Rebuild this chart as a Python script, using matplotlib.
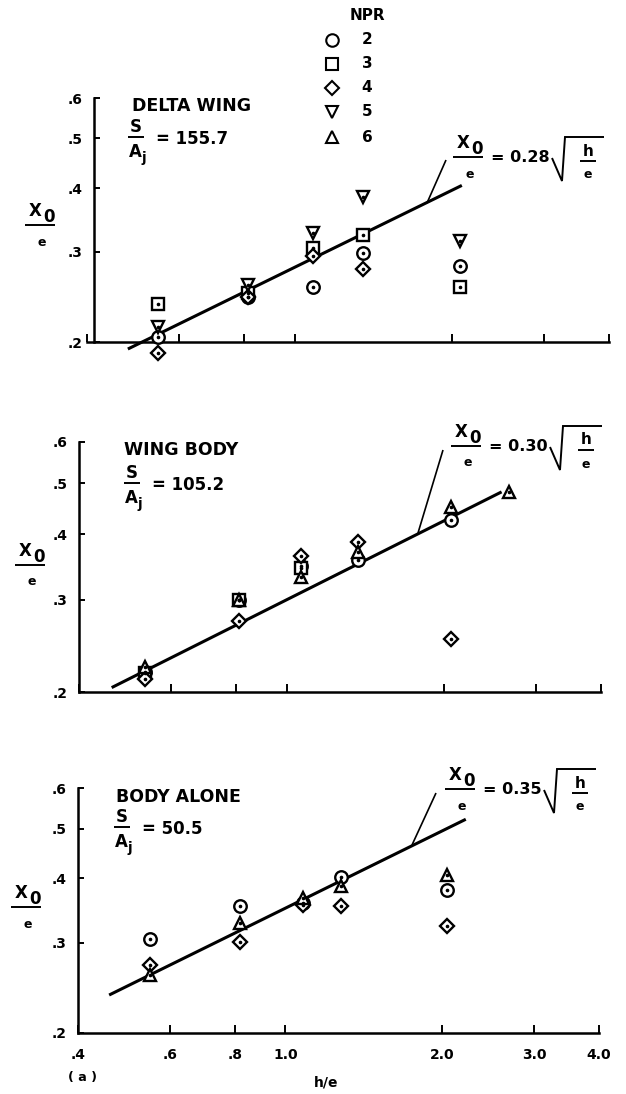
import numpy as np
import matplotlib
matplotlib.use('Agg')
import matplotlib.pyplot as plt
from matplotlib.lines import Line2D
from matplotlib.ticker import FixedLocator, NullLocator, FixedFormatter

W, H = 626, 1094
plt.rcParams['font.family'] = ['DejaVu Sans']

# ---------------- data ----------------
npr_labels = ['2', '3', '4', '5', '6']
npr_markers = ['o', 's', 'D', 'v', '^']

# DELTA WING  (S/Aj = 155.7)
dw_npr2_x = [0.547, 0.814, 1.084, 1.354, 2.07]
dw_npr2_y = [0.205, 0.245, 0.256, 0.299, 0.282]
dw_npr3_x = [0.547, 0.814, 1.084, 1.354, 2.07]
dw_npr3_y = [0.237, 0.249, 0.305, 0.324, 0.256]
dw_npr4_x = [0.547, 0.814, 1.084, 1.354]
dw_npr4_y = [0.190, 0.245, 0.295, 0.278]
dw_npr5_x = [0.547, 0.814, 1.084, 1.354, 2.07]
dw_npr5_y = [0.214, 0.258, 0.326, 0.384, 0.315]

# WING BODY  (S/Aj = 105.2)
wb_npr2_x = [0.536, 0.81, 1.067, 1.37, 2.06]
wb_npr2_y = [0.218, 0.300, 0.348, 0.357, 0.426]
wb_npr3_x = [0.536, 0.81, 1.067]
wb_npr3_y = [0.217, 0.300, 0.345]
wb_npr4_x = [0.536, 0.81, 1.067, 1.37, 2.06]
wb_npr4_y = [0.212, 0.273, 0.364, 0.387, 0.252]
wb_npr6_x = [0.536, 0.81, 1.067, 1.37, 2.06, 2.66]
wb_npr6_y = [0.223, 0.300, 0.331, 0.370, 0.451, 0.482]

# BODY ALONE  (S/Aj = 50.5)
ba_npr2_x = [0.55, 0.818, 1.08, 1.28, 2.04]
ba_npr2_y = [0.305, 0.354, 0.358, 0.403, 0.380]
ba_npr4_x = [0.55, 0.818, 1.08, 1.28, 2.04]
ba_npr4_y = [0.271, 0.301, 0.355, 0.354, 0.323]
ba_npr6_x = [0.55, 0.818, 1.08, 1.28, 2.04]
ba_npr6_y = [0.259, 0.328, 0.367, 0.387, 0.406]

panel_names = ['DELTA WING', 'WING BODY', 'BODY ALONE']
panel_s_aj = ['155.7', '105.2', '50.5']
fit_coef = [0.28, 0.30, 0.35]
fit_coef_text = ['0.28', '0.30', '0.35']
fit_x_lo = [0.479, 0.462, 0.459]
fit_x_hi = [2.09, 2.58, 2.22]

x_ticks = [0.4, 0.6, 0.8, 1.0, 2.0, 3.0, 4.0]
x_tick_labels = ['.4', '.6', '.8', '1.0', '2.0', '3.0', '4.0']
y_ticks = [0.2, 0.3, 0.4, 0.5, 0.6]
y_tick_labels = ['.2', '.3', '.4', '.5', '.6']

panel_series = [
    [('2', dw_npr2_x, dw_npr2_y), ('3', dw_npr3_x, dw_npr3_y),
     ('4', dw_npr4_x, dw_npr4_y), ('5', dw_npr5_x, dw_npr5_y)],
    [('2', wb_npr2_x, wb_npr2_y), ('3', wb_npr3_x, wb_npr3_y),
     ('4', wb_npr4_x, wb_npr4_y), ('6', wb_npr6_x, wb_npr6_y)],
    [('2', ba_npr2_x, ba_npr2_y), ('4', ba_npr4_x, ba_npr4_y),
     ('6', ba_npr6_x, ba_npr6_y)],
]

marker_size = {'o': 9, 's': 8.5, 'D': 7.3, 'v': 9, '^': 9}

# ---------------- figure ----------------
fig = plt.figure(figsize=(W / 100, H / 100), dpi=100)

def ftext(x, y, s, size, ha='center', va='center'):
    fig.text(x / W, 1 - y / H, s, fontsize=size, fontweight='bold',
             ha=ha, va=va, color='black')

def fline(xs, ys, lw=1.4):
    fig.add_artist(Line2D([x / W for x in xs], [1 - y / H for y in ys],
                          transform=fig.transFigure, color='black', lw=lw,
                          solid_capstyle='butt', solid_joinstyle='miter'))

def xo_over_e(cx, ytop, size=12, barw=30):
    ftext(cx - 5, ytop, 'X', size)
    ftext(cx + 9, ytop + 6, '0', size)
    fline([cx - barw / 2, cx + barw / 2], [ytop + 14, ytop + 14], 1.4)
    ftext(cx + 2, ytop + 31, 'e', size - 3)

def s_over_aj(x, ytop, val, size=12):
    ftext(x, ytop, 'S', size)
    fline([x - 8, x + 8], [ytop + 10, ytop + 10], 1.4)
    ftext(x - 1, ytop + 25, 'A', size)
    ftext(x + 8, ytop + 31, 'j', size - 2)
    ftext(x + 20, ytop + 12, '= ' + val, size, ha='left')

def equation(x0, y0, coef, size=11.5):
    xo_over_e(x0, y0, 12)
    ftext(x0 + 23, y0 + 15, '= ' + coef, size, ha='left')
    rx = x0 + 84
    fline([rx, rx + 10, rx + 13, rx + 52], [y0 + 15, y0 + 38, y0 - 6, y0 - 6], 1.4)
    ftext(rx + 36, y0 + 8, 'h', size - 0.5)
    fline([rx + 28, rx + 44], [y0 + 18, y0 + 18], 1.4)
    ftext(rx + 36, y0 + 32, 'e', size - 2.5)

axes_px = [(87, 342, 609, 98), (79, 692, 601, 442), (78, 1033, 599, 788)]
spine_shift = [-5, 0, 0]

for i, (l, b, r, t) in enumerate(axes_px):
    ax = fig.add_axes([l / W, 1 - b / H, (r - l) / W, (b - t) / H])
    ax.set_xscale('log')
    ax.set_yscale('log')
    ax.set_xlim(0.4, 4.0)
    ax.set_ylim(0.2, 0.6)
    ax.patch.set_alpha(0)
    for s in ['top', 'right']:
        ax.spines[s].set_visible(False)
    for s in ['left', 'bottom']:
        ax.spines[s].set_linewidth(1.8)
    if spine_shift[i]:
        ax.spines['left'].set_position(('outward', spine_shift[i]))
    ax.xaxis.set_major_locator(FixedLocator(x_ticks))
    ax.xaxis.set_minor_locator(NullLocator())
    ax.yaxis.set_major_locator(FixedLocator(y_ticks))
    ax.yaxis.set_minor_locator(NullLocator())
    ax.yaxis.set_major_formatter(FixedFormatter(y_tick_labels))
    if i == 2:
        ax.xaxis.set_major_formatter(FixedFormatter(x_tick_labels))
    else:
        ax.xaxis.set_major_formatter(FixedFormatter([''] * len(x_ticks)))
    ax.tick_params(axis='x', direction='in', length=6, width=1.4, pad=11,
                   labelsize=10)
    ax.tick_params(axis='y', direction='in', length=4, width=1.4, pad=8,
                   labelsize=10)
    for lab in ax.get_xticklabels() + ax.get_yticklabels():
        lab.set_fontweight('bold')

    # fitted line x0/e = C sqrt(h/e)
    xs = np.geomspace(fit_x_lo[i], fit_x_hi[i], 60)
    ax.plot(xs, fit_coef[i] * np.sqrt(xs), color='black', lw=2.2,
            clip_on=False, solid_capstyle='butt', zorder=2)

    for lab, xv, yv in panel_series[i]:
        m = npr_markers[npr_labels.index(lab)]
        ax.plot(xv, yv, ls='none', marker=m, ms=marker_size[m], mfc='white',
                mec='black', mew=1.7, clip_on=False, zorder=3)
        ax.plot(xv, yv, ls='none', marker='o', ms=1.6, color='black',
                clip_on=False, zorder=4)

# ---------------- annotations ----------------
ftext(132, 106, panel_names[0], 12.5, ha='left')
ftext(124, 450, panel_names[1], 12.5, ha='left')
ftext(116, 797, panel_names[2], 12.5, ha='left')

s_over_aj(136, 127, panel_s_aj[0])
s_over_aj(132, 473, panel_s_aj[1])
s_over_aj(122, 817, panel_s_aj[2])

xo_over_e(40, 211)
xo_over_e(30, 551)
xo_over_e(26, 893)

equation(468, 143, fit_coef_text[0])
fline([427, 446], [203, 160], 1.2)
equation(466, 432, fit_coef_text[1])
fline([418, 443], [533, 450], 1.2)
equation(460, 775, fit_coef_text[2])
fline([412, 436], [845, 793], 1.2)

# legend
ftext(367, 16, 'NPR', 11)
leg_y = [40, 64, 88, 112, 137]
for lab, m, yy in zip(npr_labels, npr_markers, leg_y):
    fig.add_artist(Line2D([332 / W], [1 - yy / H], transform=fig.transFigure,
                          ls='none', marker=m, ms=marker_size[m], mfc='white',
                          mec='black', mew=1.5))
    ftext(367, yy, lab, 11)

ftext(82, 1078, '( a )', 9)
ftext(326, 1083, 'h/e', 10)

fig.savefig('out.png', dpi=100)
